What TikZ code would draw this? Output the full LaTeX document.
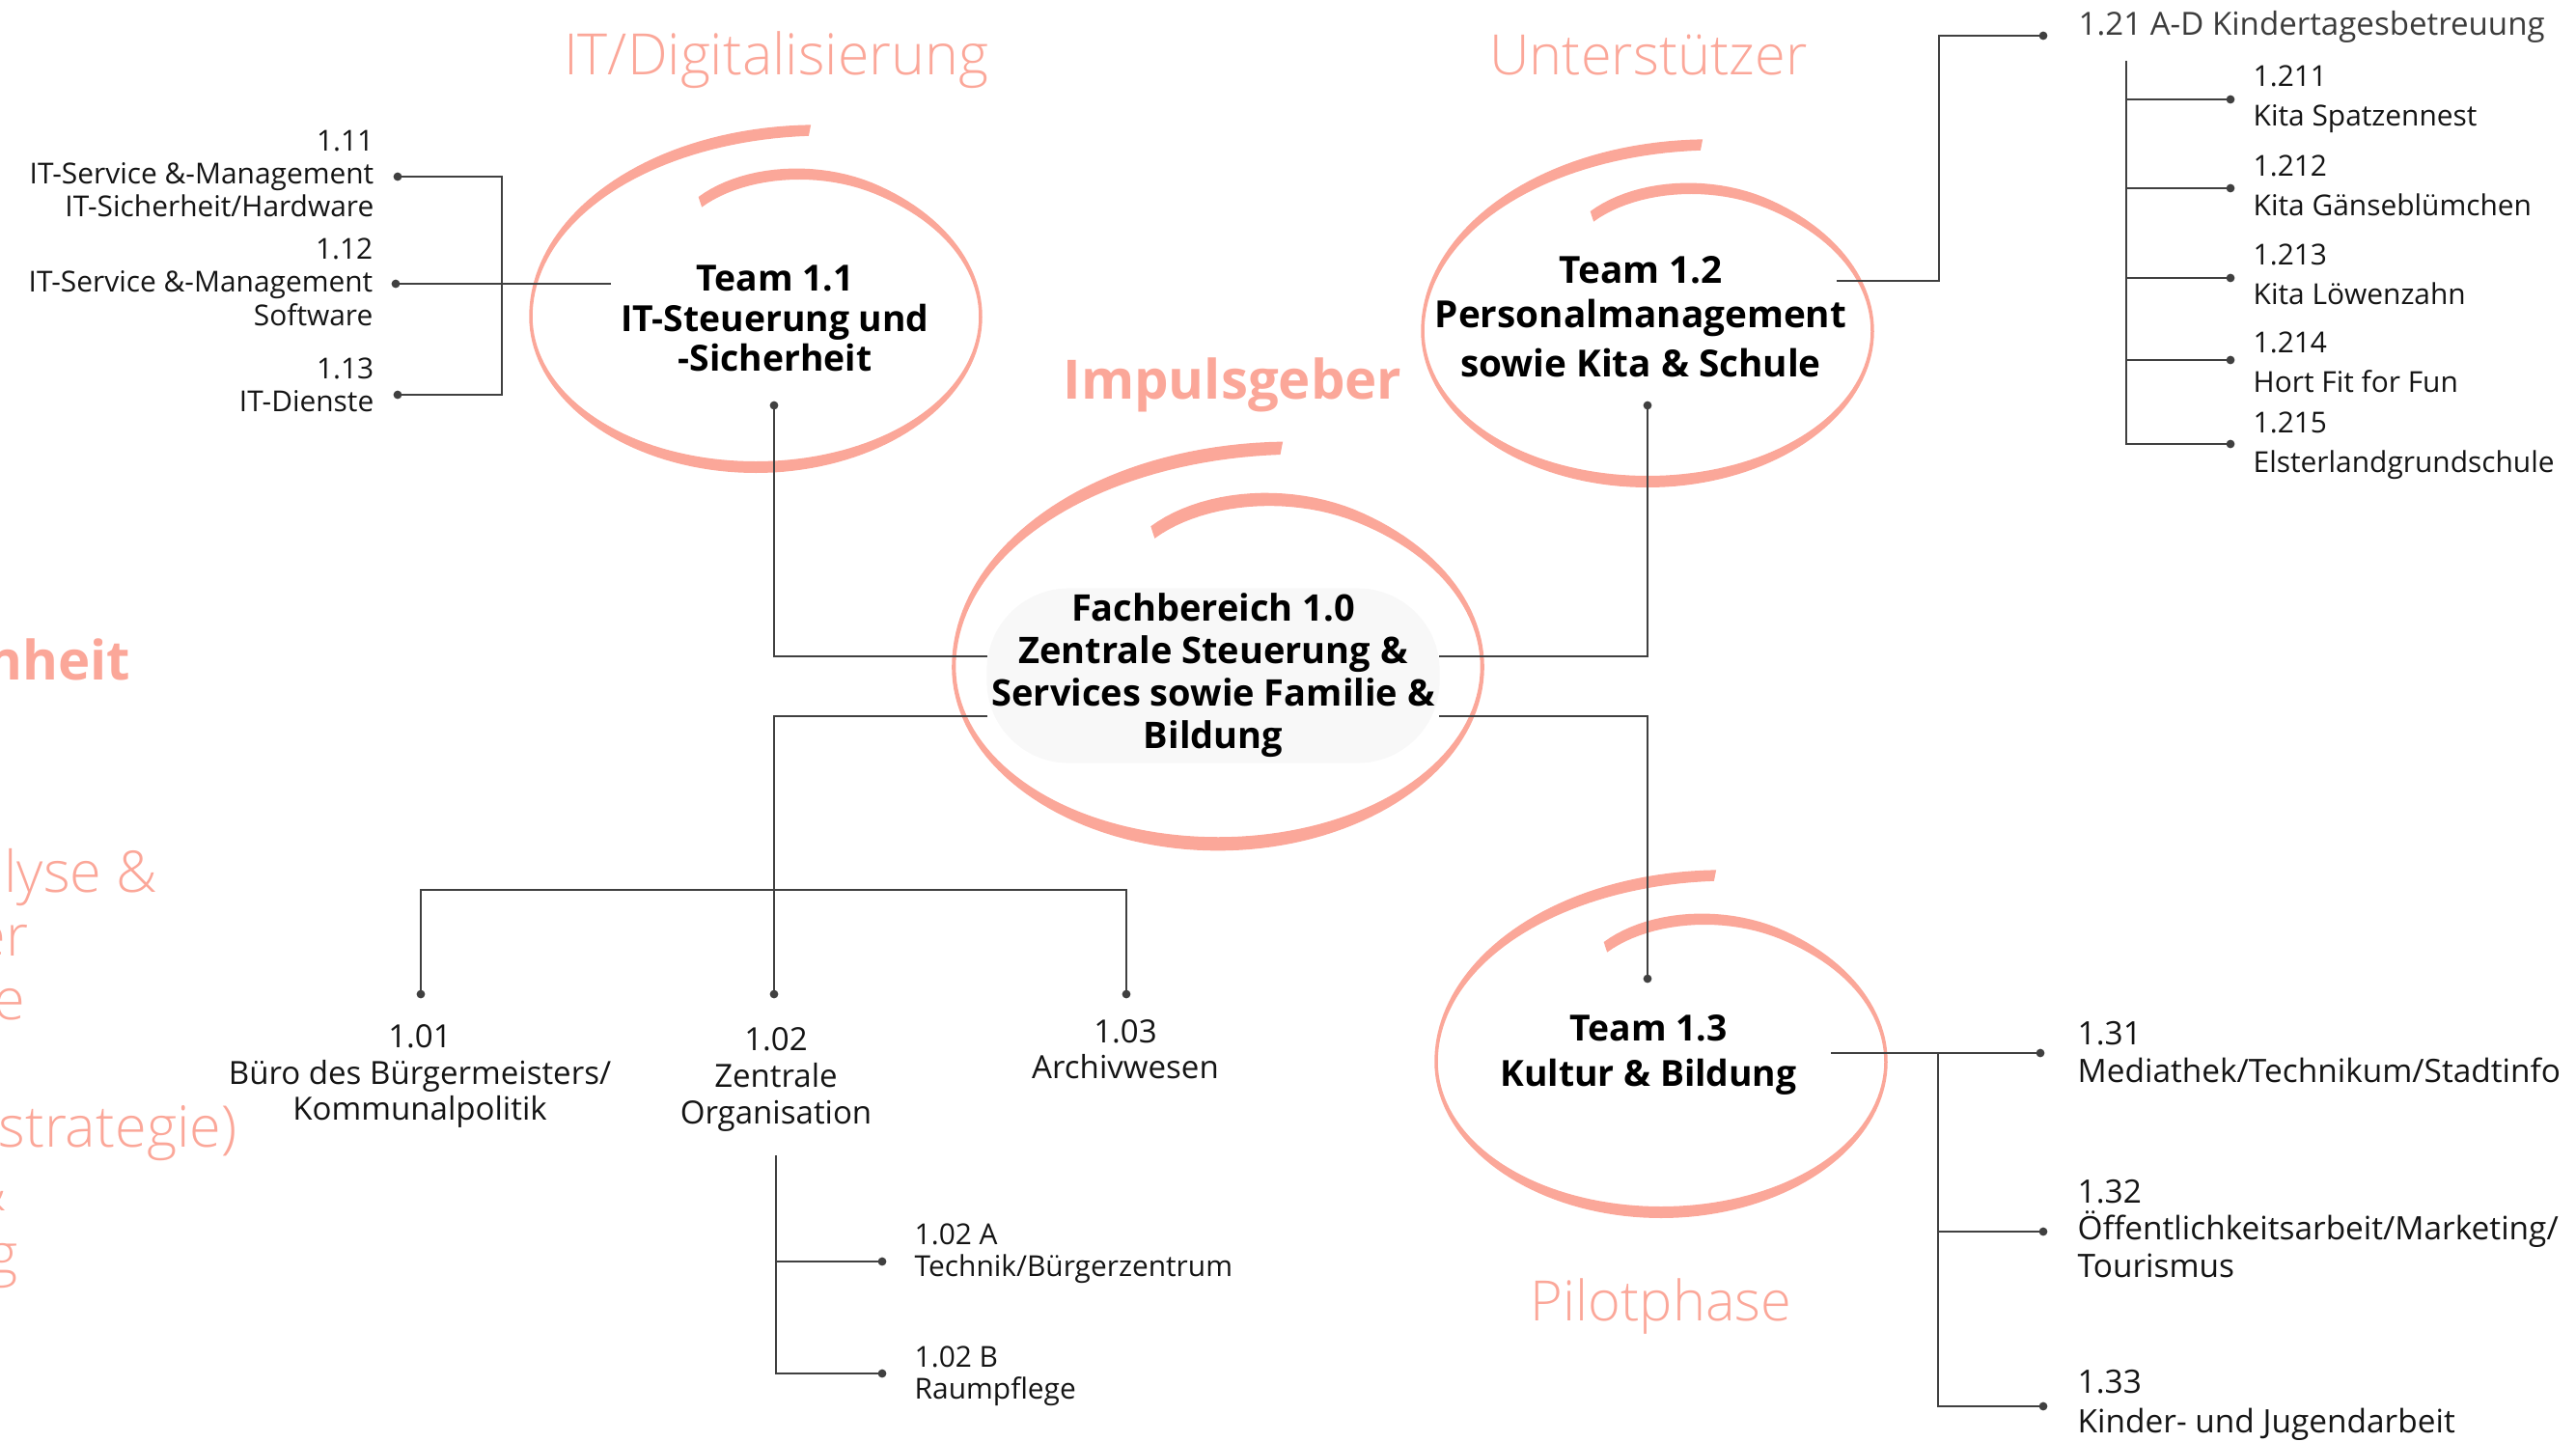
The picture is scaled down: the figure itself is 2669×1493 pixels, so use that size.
\documentclass[tikz,border=0pt]{standalone}
\usepackage{fontspec}
\setmainfont{Open Sans}
\newfontfamily\lightfont{Open Sans Light}
\definecolor{salmon}{RGB}{251,167,153}
\definecolor{linec}{RGB}{64,64,64}
\definecolor{labelc}{RGB}{20,20,20}
\definecolor{headc}{RGB}{60,60,60}
\definecolor{fbgray}{RGB}{248,248,248}
\tikzset{
  declare function={
    swK(\t)=1-0.2*(max(0,1-(108-\t)/50))^2+0.26*(max(0,(-180-\t)/101))^2;
    swW(\t)=3.5+8.5*(sin(\t))^2;
  },
  conn/.style={draw=linec, line width=0.65pt},
  teamtext/.style={align=center, inner sep=0pt, text=black},
  fbbox/.style={align=center, inner sep=0pt, text=black, fill=fbgray,
    minimum width=4.69cm, minimum height=1.81cm, rounded corners=0.85cm,
    font=\fontsize{10.8pt}{12.5pt}\selectfont\bfseries},
  titletext/.style={anchor=base, inner sep=0pt, text=salmon, font=\lightfont\fontsize{16.4pt}{19pt}\selectfont},
  fragtext/.style={anchor=base east, inner sep=0pt, text=salmon, font=\lightfont\fontsize{16.9pt}{19pt}\selectfont},
  smalltext/.style={inner sep=0pt, text=labelc},
}
\newcommand{\swoosh}[3]{%
  \fill[salmon] plot[domain=0:389, samples=170, variable=\u]
    ({#1+#3*(233*swK(108-\u)+swW(108-\u)/2)*cos(108-\u)},
     {#2-#3*(156*swK(108-\u)+swW(108-\u)/2)*sin(108-\u)})
   -- plot[domain=0:389, samples=170, variable=\u]
    ({#1+#3*(233*swK(\u-281)-swW(\u-281)/2)*cos(\u-281)},
     {#2-#3*(156*swK(\u-281)-swW(\u-281)/2)*sin(\u-281)})
   -- cycle;}
\begin{document}
\begin{tikzpicture}[x=0.01cm,y=-0.01cm]
\useasboundingbox (0,0) rectangle (2669,1493);

% hand-drawn rings
\swoosh{783}{328}{1}
\swoosh{1707}{343}{1}
\swoosh{1262}{691}{1.175}
\swoosh{1721}{1100}{1}

% central node
\node[fbbox] (fb) at (1257,700) {Fachbereich 1.0\\Zentrale Steuerung \&\\Services sowie Familie \&\\Bildung};

% connection points
\coordinate (d111) at (412,183);
\coordinate (d112) at (410,294);
\coordinate (d113) at (412,409);
\coordinate (br11) at (520,294);
\coordinate (t11w) at (633,294);
\coordinate (d11) at (802,420);
\coordinate (d12) at (1707,420);
\coordinate (d13) at (1707,1014);
\coordinate (fbL1) at (1023,680);
\coordinate (fbR1) at (1491,680);
\coordinate (fbL2) at (1023,742);
\coordinate (fbR2) at (1491,742);
\coordinate (d101) at (436,1030);
\coordinate (d102) at (802,1030);
\coordinate (d103) at (1167,1030);
\coordinate (j10) at (802,922);
\coordinate (v102) at (804,1197);
\coordinate (d102a) at (914,1307);
\coordinate (d102b) at (914,1423);
\coordinate (t12e) at (1903,291);
\coordinate (c121) at (2009,291);
\coordinate (d121) at (2117,37);
\coordinate (v21) at (2203,63);
\coordinate (d1211) at (2311,103);
\coordinate (d1212) at (2311,195);
\coordinate (d1213) at (2311,288);
\coordinate (d1214) at (2311,373);
\coordinate (d1215) at (2311,460);
\coordinate (t13e) at (1897,1091);
\coordinate (v13) at (2008,1091);
\coordinate (d131) at (2114,1091);
\coordinate (d132) at (2117,1276);
\coordinate (d133) at (2117,1457);

% connectors
\draw[conn] (t11w) -- (d112);
\draw[conn] (d111) -| (br11) |- (d113);
\draw[conn] (fbL1) -| (d11);
\draw[conn] (fbR1) -| (d12);
\draw[conn] (fbR2) -| (d13);
\draw[conn] (fbL2) -| (d102);
\draw[conn] (d101) |- (j10) -| (d103);
\draw[conn] (v102) |- (d102b);
\draw[conn] (d102a -| v102) -- (d102a);
\draw[conn] (t12e) -- (c121) |- (d121);
\draw[conn] (v21) |- (d1215);
\foreach \p in {d1211,d1212,d1213,d1214} \draw[conn] (\p -| v21) -- (\p);
\draw[conn] (t13e) -- (d131);
\draw[conn] (v13) |- (d133);
\draw[conn] (d132 -| v13) -- (d132);

\foreach \p in {d111,d112,d113,d11,d12,d13,d101,d102,d103,d102a,d102b,d121,d1211,d1212,d1213,d1214,d1215,d131,d132,d133}
  \fill[linec] (\p) circle[radius=1.25pt];

% team texts
\node[teamtext, font=\fontsize{10.6pt}{11.8pt}\selectfont\bfseries] (t11) at (803,330) {Team 1.1\\IT-Steuerung und\\-Sicherheit};
\node[teamtext, font=\fontsize{11pt}{13pt}\selectfont\bfseries] (t12) at (1700,328) {Team 1.2\\Personalmanagement\\[1.4pt]sowie Kita \& Schule};
\node[teamtext, font=\fontsize{10.6pt}{13.3pt}\selectfont\bfseries] (t13) at (1708,1093) {Team 1.3\\Kultur \& Bildung};

% titles
\node[titletext, font=\lightfont\fontsize{16.8pt}{19pt}\selectfont] (tit) at (804,77) {IT/Digitalisierung};
\node[titletext] (tunt) at (1708,77) {Unterstützer};
\node[titletext, font=\fontsize{16pt}{19pt}\selectfont\bfseries] (timp) at (1277,413) {Impulsgeber};
\node[titletext] (tpil) at (1721,1368) {Pilotphase};

% cut-off texts at the left edge
\node[fragtext, font=\fontsize{16pt}{19pt}\selectfont\bfseries] (f1) at (136,704) {nheit};
\node[fragtext] (f2) at (164,924) {lyse \&};
\node[fragtext] (f3) at (30,990) {er};
\node[fragtext] (f4) at (27,1056) {e};
\node[fragtext] (f5) at (246,1188) {strategie)};
\node[fragtext] (f6) at (8,1254) {\&};
\node[fragtext] (f7) at (19,1320) {g};

% left labels
\node[smalltext, anchor=east, align=right, font=\fontsize{8.5pt}{9.7pt}\selectfont] (n111) at (388,180) {1.11\\IT-Service \&-Management\\IT-Sicherheit/Hardware};
\node[smalltext, anchor=east, align=right, font=\fontsize{8.5pt}{9.8pt}\selectfont] (n112) at (387,292) {1.12\\IT-Service \&-Management\\Software};
\node[smalltext, anchor=east, align=right, font=\fontsize{8.5pt}{9.7pt}\selectfont] (n113) at (388,399) {1.13\\IT-Dienste};

% top right labels
\node[smalltext, anchor=base west, text=headc, font=\fontsize{9.4pt}{11pt}\selectfont] (n121) at (2153,36) {1.21 A-D Kindertagesbetreuung};
\node[smalltext, anchor=west, align=left, font=\fontsize{8.5pt}{11.75pt}\selectfont] (n1211) at (2334,103) {1.211\\Kita Spatzennest};
\node[smalltext, anchor=west, align=left, font=\fontsize{8.5pt}{11.75pt}\selectfont] (n1212) at (2334,192) {1.212\\Kita Gänseblümchen};
\node[smalltext, anchor=west, align=left, font=\fontsize{8.5pt}{11.75pt}\selectfont] (n1213) at (2334,284) {1.213\\Kita Löwenzahn};
\node[smalltext, anchor=west, align=left, font=\fontsize{8.5pt}{11.75pt}\selectfont] (n1214) at (2334,375) {1.214\\Hort Fit for Fun};
\node[smalltext, anchor=west, align=left, font=\fontsize{8.5pt}{11.75pt}\selectfont] (n1215) at (2334,462) {1.215\\Elsterlandgrundschule};

% bottom right labels
\node[smalltext, anchor=west, align=left, font=\fontsize{9.5pt}{10.9pt}\selectfont] (n131) at (2152,1090) {1.31\\Mediathek/Technikum/Stadtinfo};
\node[smalltext, anchor=west, align=left, font=\fontsize{9.5pt}{10.9pt}\selectfont] (n132) at (2152,1273) {1.32\\Öffentlichkeitsarbeit/Marketing/\\Tourismus};
\node[smalltext, anchor=west, align=left, font=\fontsize{9.5pt}{11.6pt}\selectfont] (n133) at (2152,1456) {1.33\\Kinder- und Jugendarbeit};

% bottom centre labels
\node[smalltext, align=center, font=\fontsize{9.4pt}{10.6pt}\selectfont] (n101) at (435,1115) {1.01\\Büro des Bürgermeisters/\\Kommunalpolitik};
\node[smalltext, align=center, font=\fontsize{9.4pt}{10.8pt}\selectfont] (n102) at (804,1118) {1.02\\Zentrale\\Organisation};
\node[smalltext, align=center, font=\fontsize{9.4pt}{10.6pt}\selectfont] (n103) at (1166,1087) {1.03\\Archivwesen};
\node[smalltext, anchor=west, align=left, font=\fontsize{8.5pt}{9.5pt}\selectfont] (n102a) at (947,1299) {1.02 A\\Technik/Bürgerzentrum};
\node[smalltext, anchor=west, align=left, font=\fontsize{8.5pt}{9.5pt}\selectfont] (n102b) at (947,1426) {1.02 B\\Raumpflege};
\end{tikzpicture}
\end{document}
